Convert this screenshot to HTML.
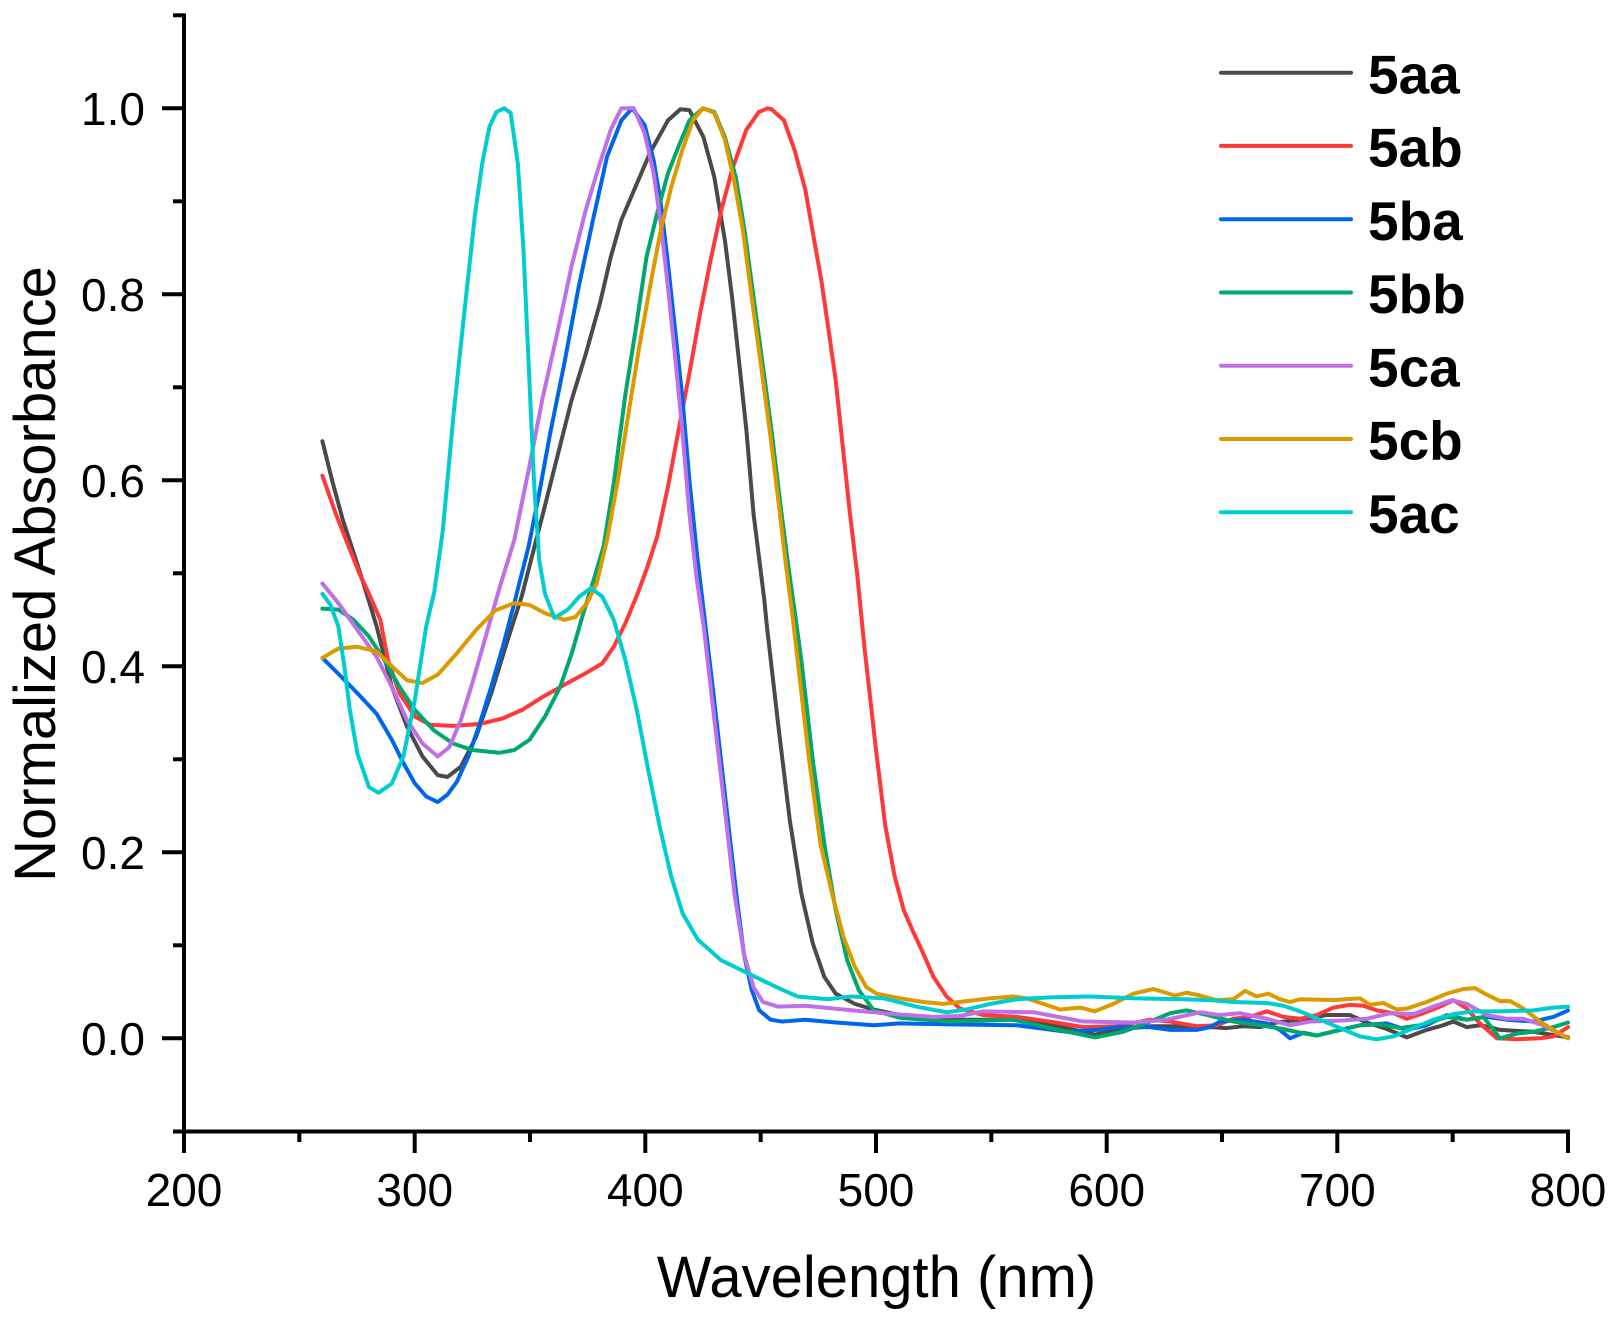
<!DOCTYPE html>
<html>
<head>
<meta charset="utf-8">
<style>
html,body{margin:0;padding:0;background:#fff;}
svg{display:block;}
text{font-family:"Liberation Sans",Arial,sans-serif;fill:#000;}
</style>
</head>
<body>
<svg width="1617" height="1322" viewBox="0 0 1617 1322" xmlns="http://www.w3.org/2000/svg">
<rect x="0" y="0" width="1617" height="1322" fill="#fff"/>

<!-- curves -->
<g transform="matrix(2.3067 0 0 -930 -277.34 1038.3)" fill="none" stroke-width="4" stroke-linejoin="round" stroke-linecap="round">
<!-- 5aa gray -->
<polyline vector-effect="non-scaling-stroke" stroke="#4a4a4a" points="260,0.642 264.2,0.6 268.9,0.557 275,0.511 279.7,0.474 283.5,0.443 290.1,0.378 296.7,0.335 303.4,0.303 310,0.283 314.2,0.281 320,0.292 326.6,0.324 333.2,0.371 339.9,0.425 346.5,0.476 355.6,0.564 361.8,0.625 368,0.686 374.2,0.736 380.3,0.79 385,0.84 389.6,0.88 395.8,0.916 402,0.952 409.8,0.987 415.2,0.999 419.1,0.998 425.2,0.969 429.9,0.926 434.5,0.858 437.6,0.797 440.7,0.726 443.8,0.654 446.9,0.564 451.6,0.471 452.7,0.443 457.7,0.335 462.6,0.235 467.6,0.156 472.6,0.102 477.6,0.066 482.5,0.048 490.8,0.037 498.8,0.031 510.4,0.025 532,0.02 561,0.02 582.6,0.011 594.9,0.004 604.3,0.009 618.8,0.013 639,0.013 652,0.011 659.2,0.013 666.5,0.012 673.7,0.017 683.8,0.02 695.4,0.025 705.5,0.025 712.7,0.017 721.4,0.01 730.1,0.001 738.7,0.009 744.5,0.013 750.3,0.018 756.1,0.012 761.8,0.014 766.2,0.012 770.5,0.009 785,0.007 800,0.001"/>
<!-- 5ab red -->
<polyline vector-effect="non-scaling-stroke" stroke="#ff3838" points="260,0.605 265.8,0.564 272,0.525 276,0.5 280.2,0.478 285.1,0.45 288.4,0.407 293.4,0.371 300.1,0.346 306.7,0.337 316.6,0.336 328.3,0.338 338.2,0.344 346.5,0.353 354.8,0.366 364.8,0.38 373,0.391 381.3,0.403 386.3,0.421 391.3,0.446 396.3,0.476 400.5,0.504 405.1,0.539 409.8,0.593 414.4,0.654 419.1,0.715 423.7,0.779 428.3,0.837 433,0.891 437.6,0.934 443.8,0.977 449.2,0.996 453,1 454.7,0.999 460.1,0.987 464.7,0.955 469.4,0.912 473.2,0.858 476.3,0.815 479.4,0.762 482.5,0.708 485.6,0.636 488.7,0.564 491.8,0.5 495,0.42 500,0.31 504,0.229 508,0.175 512,0.138 516,0.115 519.8,0.095 524.9,0.066 530.6,0.045 536.4,0.032 546.5,0.025 561,0.023 575.4,0.018 589.9,0.012 604.3,0.013 618.8,0.02 627.5,0.018 639,0.013 647.7,0.014 654.9,0.021 662.1,0.023 669.4,0.029 676.6,0.023 683.8,0.021 691,0.025 698.3,0.033 705.5,0.036 711.3,0.035 717.1,0.03 724.3,0.027 730.1,0.021 737.3,0.027 744.5,0.034 750.3,0.041 756.1,0.032 761.8,0.016 769.1,0 777.7,-0.001 787.9,0 793.6,0.002 800,0.012"/>
<!-- 5ba blue -->
<polyline vector-effect="non-scaling-stroke" stroke="#0066e8" points="260,0.409 266.9,0.392 275.2,0.371 283.5,0.349 290.1,0.321 295.1,0.296 300.1,0.274 305,0.26 310,0.254 314.2,0.262 318.3,0.276 323.3,0.303 328.3,0.339 333.2,0.378 338.2,0.421 343.2,0.468 349.4,0.529 354,0.586 358.7,0.65 364.9,0.726 371.1,0.808 377.3,0.88 383.4,0.948 389.6,0.987 394.3,1 399.7,0.982 403.6,0.944 406.7,0.898 409.8,0.833 412.9,0.762 416,0.69 419.1,0.6 422.5,0.518 426.1,0.443 429.5,0.371 432.8,0.299 436.1,0.228 439.4,0.156 442.7,0.091 446.1,0.052 449.4,0.03 454.3,0.02 459.3,0.018 469.3,0.02 482.5,0.017 499.1,0.014 510,0.016 532,0.015 561,0.014 582.6,0.007 595.7,0.009 604.3,0.012 618.8,0.012 627.5,0.009 639,0.009 644.8,0.012 649.1,0.018 659.2,0.02 669.4,0.016 675.1,0.009 679.5,0 685.3,0.006 691,0.003 701.2,0.009 709.8,0.014 721.4,0.016 730.1,0.009 738.7,0.014 747.4,0.025 756.1,0.02 764.7,0.023 773.4,0.02 785,0.018 793.6,0.023 800,0.03"/>
<!-- 5bb green -->
<polyline vector-effect="non-scaling-stroke" stroke="#00a86b" points="260,0.462 266.9,0.461 273.5,0.45 280.2,0.432 286.8,0.407 293.4,0.378 300.1,0.353 308.4,0.331 316.6,0.317 325,0.31 336.6,0.307 343.2,0.31 349.8,0.321 356.5,0.346 363.1,0.378 368.1,0.414 373.1,0.457 378,0.496 381.9,0.529 386.5,0.6 391.2,0.69 395.8,0.762 400.5,0.84 405.1,0.887 409.8,0.93 414.4,0.959 419.1,0.987 425,1 429.9,0.996 434.5,0.969 439.2,0.926 443,0.869 446.9,0.797 450.8,0.726 454.7,0.654 458.5,0.575 462.4,0.5 464.7,0.46 467.6,0.407 472.6,0.299 477.6,0.209 482.5,0.138 487.5,0.084 492.5,0.052 494.5,0.045 499.1,0.03 510.4,0.022 532,0.018 559.5,0.02 575.4,0.011 594.9,0.001 607.2,0.007 618.8,0.018 627.5,0.027 634.7,0.03 641.9,0.026 654.9,0.018 666.5,0.014 676.6,0.01 683.8,0.006 691,0.003 701.2,0.009 709.8,0.014 718.5,0.015 727.2,0.011 735.8,0.014 747.4,0.023 756.1,0.02 763.3,0.023 770.5,0 777.7,0.005 785,0.007 793.6,0.012 800,0.017"/>
<!-- 5ca purple -->
<polyline vector-effect="non-scaling-stroke" stroke="#bf70e6" points="260,0.489 266.9,0.468 275.2,0.439 283.5,0.41 290.1,0.378 296.7,0.342 303.4,0.317 310,0.303 315,0.313 320,0.342 325,0.382 330,0.425 334.9,0.468 337.5,0.49 343.2,0.536 349.4,0.611 355.6,0.69 361.8,0.758 368,0.83 374.2,0.891 380.3,0.941 385,0.977 389.6,1 395,1 399.7,0.973 403.6,0.93 406.7,0.876 409.8,0.808 412.9,0.733 416,0.654 419.1,0.564 422.2,0.495 425.3,0.443 428.6,0.371 432,0.299 435.3,0.228 438.6,0.156 442.7,0.091 446.9,0.055 451,0.039 457.7,0.034 469.3,0.035 485.9,0.031 503.2,0.027 524.9,0.023 536.4,0.024 546.5,0.029 568.2,0.028 589.9,0.018 611.6,0.017 626,0.02 640.5,0.028 649.1,0.025 657.8,0.027 669.4,0.021 679.5,0.014 688.1,0.018 701.2,0.019 712.7,0.021 722.8,0.027 733,0.026 741.6,0.034 749.6,0.041 756.1,0.037 764.7,0.025 773.4,0.021 780.6,0.021 789.3,0.014 800,0"/>
<!-- 5cb orange -->
<polyline vector-effect="non-scaling-stroke" stroke="#dc9a00" points="260,0.409 266.9,0.419 275.2,0.421 283.5,0.416 290.1,0.4 296.7,0.385 303.4,0.382 310,0.391 318.3,0.414 326.6,0.439 334.9,0.46 343.2,0.468 349.8,0.466 356.5,0.457 364.8,0.45 369.7,0.453 374.7,0.468 378.9,0.489 383.4,0.536 388.1,0.6 392.7,0.672 397.4,0.744 402,0.808 406.7,0.869 411.3,0.916 416,0.955 420.6,0.987 425,1 429.9,0.995 434.5,0.966 438.4,0.923 442.3,0.869 446.1,0.797 450,0.726 453.9,0.654 457.8,0.575 460.9,0.51 464,0.45 466,0.407 471,0.299 475.9,0.209 480.9,0.156 485.9,0.109 490.8,0.077 495.8,0.055 500.3,0.048 510.4,0.043 520.5,0.039 529.2,0.037 539.3,0.04 549.4,0.043 559.5,0.045 565.3,0.043 572.5,0.037 579.8,0.031 588.4,0.033 594.9,0.029 602.9,0.037 611.6,0.048 620.2,0.053 629.6,0.046 634.7,0.049 640.5,0.046 647.7,0.041 654.9,0.042 660,0.051 665,0.045 670.1,0.048 675.1,0.042 679.5,0.039 683.8,0.042 698.3,0.041 709.8,0.043 714.2,0.036 719.9,0.038 725.7,0.031 730.1,0.032 738.7,0.039 747.4,0.048 754.6,0.053 759.7,0.054 764.7,0.047 770.5,0.04 774.9,0.04 780.6,0.032 787.9,0.018 793.6,0.009 800,0"/>
<!-- 5ac cyan -->
<polyline vector-effect="non-scaling-stroke" stroke="#00cdcd" points="260,0.478 263.5,0.466 266.9,0.443 269.5,0.4 271.9,0.353 275.2,0.306 280.2,0.27 284.3,0.264 290.1,0.274 295.1,0.303 300.1,0.364 305,0.443 308.5,0.48 312.2,0.546 316.9,0.672 321.5,0.78 326.2,0.887 329.3,0.941 332.4,0.98 335.4,0.996 338.8,1 341.6,0.995 344.7,0.941 347.1,0.851 349.4,0.726 351.7,0.6 354,0.514 356.5,0.478 360.6,0.452 366.4,0.461 371.4,0.475 376.4,0.484 381.3,0.475 386.3,0.45 391.3,0.407 396.3,0.353 401.3,0.288 406.2,0.228 411.2,0.174 416.2,0.134 422.8,0.106 432.8,0.084 444.4,0.07 457.7,0.054 466,0.045 479.2,0.042 489.2,0.045 503.2,0.043 517.6,0.034 530.6,0.028 539.3,0.031 549.4,0.037 561,0.042 575.4,0.044 592.8,0.045 611.6,0.043 633.2,0.042 644.8,0.041 654.9,0.039 669.4,0.038 676.6,0.035 683.8,0.029 692.5,0.02 701.2,0.011 709.8,0.002 717,-0.001 724.3,0.002 733,0.011 741.6,0.02 750.3,0.026 759,0.029 770.5,0.029 785,0.03 793.6,0.033 800,0.034"/>
</g>

<!-- axes -->
<g stroke="#000" stroke-width="4" fill="none">
<line x1="184" y1="13.5" x2="184" y2="1133.5"/>
<line x1="173" y1="1131.5" x2="1570" y2="1131.5"/>
<!-- y major ticks -->
<line x1="162" y1="1038.3" x2="184" y2="1038.3"/>
<line x1="162" y1="852.3" x2="184" y2="852.3"/>
<line x1="162" y1="666.3" x2="184" y2="666.3"/>
<line x1="162" y1="480.3" x2="184" y2="480.3"/>
<line x1="162" y1="294.3" x2="184" y2="294.3"/>
<line x1="162" y1="108.3" x2="184" y2="108.3"/>
<!-- y minor ticks -->
<line x1="173" y1="945.3" x2="184" y2="945.3"/>
<line x1="173" y1="759.3" x2="184" y2="759.3"/>
<line x1="173" y1="573.3" x2="184" y2="573.3"/>
<line x1="173" y1="387.3" x2="184" y2="387.3"/>
<line x1="173" y1="201.3" x2="184" y2="201.3"/>
<line x1="173" y1="15.3" x2="184" y2="15.3"/>
<!-- x major ticks -->
<line x1="184" y1="1131.5" x2="184" y2="1153"/>
<line x1="414.7" y1="1131.5" x2="414.7" y2="1153"/>
<line x1="645.3" y1="1131.5" x2="645.3" y2="1153"/>
<line x1="876" y1="1131.5" x2="876" y2="1153"/>
<line x1="1106.7" y1="1131.5" x2="1106.7" y2="1153"/>
<line x1="1337.3" y1="1131.5" x2="1337.3" y2="1153"/>
<line x1="1568" y1="1131.5" x2="1568" y2="1153"/>
<!-- x minor ticks -->
<line x1="299.3" y1="1131.5" x2="299.3" y2="1142"/>
<line x1="530" y1="1131.5" x2="530" y2="1142"/>
<line x1="760.7" y1="1131.5" x2="760.7" y2="1142"/>
<line x1="991.3" y1="1131.5" x2="991.3" y2="1142"/>
<line x1="1222" y1="1131.5" x2="1222" y2="1142"/>
<line x1="1452.7" y1="1131.5" x2="1452.7" y2="1142"/>
</g>

<!-- y tick labels -->
<g font-size="46" text-anchor="end">
<text x="145" y="1054.8">0.0</text>
<text x="145" y="868.8">0.2</text>
<text x="145" y="682.8">0.4</text>
<text x="145" y="496.8">0.6</text>
<text x="145" y="310.8">0.8</text>
<text x="145" y="124.8">1.0</text>
</g>

<!-- x tick labels -->
<g font-size="46" text-anchor="middle">
<text x="184" y="1206">200</text>
<text x="414.7" y="1206">300</text>
<text x="645.3" y="1206">400</text>
<text x="876" y="1206">500</text>
<text x="1106.7" y="1206">600</text>
<text x="1337.3" y="1206">700</text>
<text x="1568" y="1206">800</text>
</g>

<!-- axis titles -->
<text x="876.5" y="1297" font-size="58" text-anchor="middle">Wavelength (nm)</text>
<text transform="translate(55,574) rotate(-90)" font-size="58" text-anchor="middle">Normalized Absorbance</text>

<!-- legend -->
<g stroke-width="4" stroke-linecap="round">
<line x1="1221" y1="72.7" x2="1351" y2="72.7" stroke="#4a4a4a"/>
<line x1="1221" y1="145.9" x2="1351" y2="145.9" stroke="#ff3838"/>
<line x1="1221" y1="219.2" x2="1351" y2="219.2" stroke="#0066e8"/>
<line x1="1221" y1="292.5" x2="1351" y2="292.5" stroke="#00a86b"/>
<line x1="1221" y1="365.8" x2="1351" y2="365.8" stroke="#bf70e6"/>
<line x1="1221" y1="439" x2="1351" y2="439" stroke="#dc9a00"/>
<line x1="1221" y1="512.3" x2="1351" y2="512.3" stroke="#00cdcd"/>
</g>
<g font-size="55" font-weight="bold">
<text x="1368" y="93.3">5aa</text>
<text x="1368" y="166.5">5ab</text>
<text x="1368" y="239.8">5ba</text>
<text x="1368" y="313.1">5bb</text>
<text x="1368" y="386.4">5ca</text>
<text x="1368" y="459.6">5cb</text>
<text x="1368" y="532.9">5ac</text>
</g>
</svg>
</body>
</html>
